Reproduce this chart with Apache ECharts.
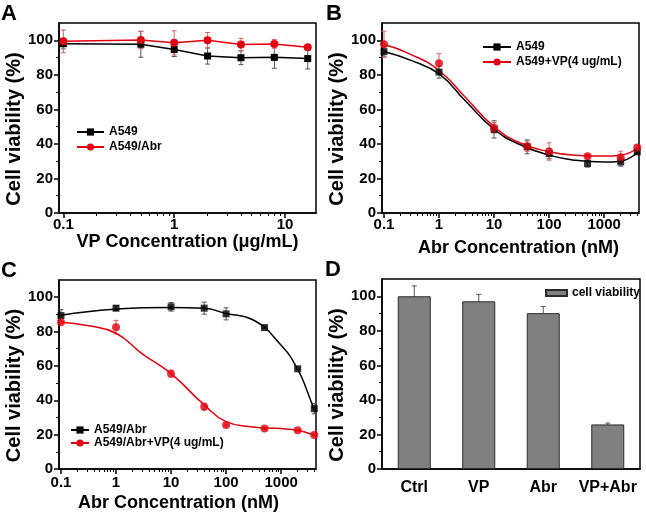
<!DOCTYPE html>
<html><head><meta charset="utf-8">
<script src="https://cdn.jsdelivr.net/npm/echarts@6/dist/echarts.min.js"></script>
<style>html,body{margin:0;padding:0;background:#fff}#c{width:646px;height:516px}</style>
</head><body><div id="c"></div>
<script>
const FONT = '"Liberation Sans", Arial, Helvetica, sans-serif';

// ---- Panel A ----
const concA = [0.1, 0.5, 1, 2, 4, 8, 16];
const a549A = [98, 97.7, 94.6, 90.9, 89.9, 90.1, 89.4];
const a549ErrA = [3, 7.5, 4, 4.7, 4, 6.3, 6];
const abrA = [99.4, 100.2, 98.5, 100, 97.5, 97.9, 95.9];
const abrErrA = [6.6, 5, 7, 4.5, 3.6, 2.5, 1.5];

// ---- Panel B ----
const concB = [0.1, 1, 10, 40, 100, 500, 2000, 4000];
const a549B = [93.4, 81.6, 48.4, 38.3, 34.4, 28.6, 29.6, 35.4];
const a549ErrB = [3, 3.5, 5, 4, 3, 2, 2.5, 1];
const vpB = [97.7, 86.7, 49.3, 38.7, 35.6, 32.9, 32.3, 37.9];
const vpErrB = [7.5, 5.5, 3, 3, 5, 1, 3.5, 1];
const fitXB = [0.1, 0.3, 1, 3, 10, 30, 100, 300, 1000, 2000, 4000];
const a549FitB = [93.5, 88.5, 80.5, 65, 48.5, 39.5, 33.5, 30.5, 29.5, 30, 35];
const vpFitB = [97.5, 92, 82.5, 67, 50, 40.5, 35.5, 33.5, 33, 33.5, 37.5];

// ---- Panel C ----
const concC = [0.1, 1, 10, 40, 100, 500, 2000, 4000];
const abrC = [89.3, 93.6, 94.4, 93.6, 90.3, 82.3, 58.3, 35.1];
const abrErrC = [3.5, 1.5, 2.5, 3.5, 3.5, 0.5, 0.5, 3];
const comboC = [85.4, 82.5, 55.5, 36.3, 25.6, 23.5, 22.5, 19.8];
const comboErrC = [0.5, 4, 2, 2, 0.5, 0.5, 0.5, 0.5];
const fitXC = [0.1, 0.3, 1, 3, 10, 40, 100, 300, 1000, 2000, 3000, 4000];
const abrFitC = [89.5, 91.5, 93, 93.8, 94, 93.5, 90.5, 87, 72, 58, 45, 34];
const comboFitC = [85.4, 83.5, 79, 67, 55.5, 37.3, 27.6, 24.5, 23.5, 22.5, 21, 19.8];

// ---- Panel D ----
const catsD = ['Ctrl', 'VP', 'Abr', 'VP+Abr'];
const valD = [100, 97.1, 90.2, 25.8];
const errD = [6, 4, 3.9, 0.8];

// ---- ticks ----
const yTicks = [0, 20, 40, 60, 80, 100];
const yMinorTicks = [10, 30, 50, 70, 90];
const xTicksA = [0.1, 1, 10];
const xMinorTicksA = [0.2, 0.3, 0.4, 0.5, 0.6, 0.7, 0.8, 0.9, 2, 3, 4, 5, 6, 7, 8, 9];
const xTicksBC = [0.1, 1, 10, 100, 1000];
const xMinorTicksBC = [0.2, 0.3, 0.4, 0.5, 0.6, 0.7, 0.8, 0.9, 2, 3, 4, 5, 6, 7, 8, 9,
  20, 30, 40, 50, 60, 70, 80, 90, 200, 300, 400, 500, 600, 700, 800, 900, 2000, 3000, 4000];

const BLACK = '#000000', RED = '#e3000f';
const ERR_BLACK = '#555555', ERR_RED = '#e06060';

const zip = (xs, ys) => xs.map((x, i) => [x, ys[i]]);
const errData = (xs, ys, es) => xs.map((x, i) => [x, ys[i] - es[i], ys[i] + es[i]]);

function errSeries(xi, yi, data, color) {
  return {
    type: 'custom', xAxisIndex: xi, yAxisIndex: yi, z: 1, silent: true,
    encode: { x: 0, y: [1, 2] }, data: data, clip: false,
    renderItem: function (params, api) {
      const x = api.value(0);
      const top = api.coord([x, api.value(2)]);
      const bot = api.coord([x, api.value(1)]);
      const c = 2.5;
      const st = { stroke: color, lineWidth: 1 };
      return { type: 'group', children: [
        { type: 'line', shape: { x1: top[0], y1: top[1], x2: bot[0], y2: bot[1] }, style: st },
        { type: 'line', shape: { x1: top[0] - c, y1: top[1], x2: top[0] + c, y2: top[1] }, style: st },
        { type: 'line', shape: { x1: bot[0] - c, y1: bot[1], x2: bot[0] + c, y2: bot[1] }, style: st }
      ] };
    }
  };
}

const axisLineStyle = { color: '#000', width: 1.5 };
const labelStyle = { color: '#000', fontSize: 15, fontWeight: 'bold', fontFamily: FONT };
const nameStyleX = { color: '#000', fontSize: 18, fontWeight: 'bold', fontFamily: FONT };

function logX(gi, min, max, ticks, name, gap, pad, margin) {
  return {
    type: 'log', logBase: 10, gridIndex: gi, min: min, max: max, position: 'bottom',
    axisLine: { show: true, onZero: false, lineStyle: axisLineStyle },
    axisTick: { show: true, customValues: ticks, length: 5, lineStyle: axisLineStyle },
    axisLabel: { customValues: ticks, margin: margin, formatter: v => String(v), ...labelStyle },
    splitLine: { show: false }, minorTick: { show: false },
    name: name, nameLocation: 'middle', nameGap: gap,
    nameTextStyle: { ...nameStyleX, padding: pad }
  };
}
function logXMinor(gi, min, max, ticks) {
  return {
    type: 'log', logBase: 10, gridIndex: gi, min: min, max: max, position: 'bottom',
    axisLine: { show: false }, axisLabel: { show: false }, splitLine: { show: false },
    axisTick: { show: true, customValues: ticks, length: 3, lineStyle: { color: '#000', width: 1 } }
  };
}
function yMajor(gi) {
  return {
    type: 'value', gridIndex: gi, min: 0, max: 110, position: 'left',
    axisLine: { show: true, onZero: false, lineStyle: axisLineStyle },
    axisTick: { show: true, customValues: yTicks, length: 5, lineStyle: axisLineStyle },
    axisLabel: { customValues: yTicks, margin: 6, ...labelStyle },
    splitLine: { show: false },
    name: 'Cell viability (%)', nameLocation: 'middle', nameGap: 35,
    nameTextStyle: { color: '#000', fontSize: 20, fontWeight: 'bold', fontFamily: FONT, padding: [0, 22, 0, 0] }
  };
}
function yMinor(gi) {
  return {
    type: 'value', gridIndex: gi, min: 0, max: 110, position: 'left',
    axisLine: { show: false }, axisLabel: { show: false }, splitLine: { show: false },
    axisTick: { show: true, customValues: yMinorTicks, length: 3, lineStyle: { color: '#000', width: 1 } }
  };
}

const gridBase = { show: true, borderColor: '#000', borderWidth: 1.5, backgroundColor: 'transparent', containLabel: false };

const legendBase = {
  orient: 'vertical', padding: 0, selectedMode: false,
  formatter: n => n.slice(2),
  textStyle: { color: '#000', fontSize: 12, fontWeight: 'bold', fontFamily: FONT }
};

const titleStyle = { color: '#000', fontSize: 22, fontWeight: 'bold', fontFamily: FONT };

const option = {
  animation: false,
  backgroundColor: '#fff',
  title: [
    { text: 'A', left: 1, top: 3, padding: 0, textStyle: titleStyle },
    { text: 'B', left: 326, top: 3, padding: 0, textStyle: titleStyle },
    { text: 'C', left: 1, top: 260, padding: 0, textStyle: titleStyle },
    { text: 'D', left: 325, top: 259, padding: 0, textStyle: titleStyle }
  ],
  grid: [
    { ...gridBase, left: 59, top: 23, width: 257, height: 190 },
    { ...gridBase, left: 382, top: 23, width: 257, height: 190 },
    { ...gridBase, left: 59, top: 280, width: 257, height: 189 },
    { ...gridBase, left: 382, top: 279, width: 258, height: 190 }
  ],
  legend: [
    { ...legendBase, left: 76, top: 126, itemWidth: 27, itemHeight: 9, itemGap: 3,
      data: ['A:A549', 'A:A549/Abr'] },
    { ...legendBase, left: 482, top: 41, itemWidth: 28, itemHeight: 9, itemGap: 3,
      data: ['B:A549', 'B:A549+VP(4 ug/mL)'] },
    { ...legendBase, left: 70, top: 424, itemWidth: 18, itemHeight: 9, itemGap: 1,
      data: ['C:A549/Abr', 'C:A549/Abr+VP(4 ug/mL)'] },
    { ...legendBase, left: 545, top: 287, itemWidth: 21, itemHeight: 6, icon: 'rect',
      data: ['D:cell viability'] }
  ],
  xAxis: [
    logX(0, 0.0914, 19, xTicksA, 'VP Concentration (μg/mL)', 19, [0, 0, 0, 0], 4),
    logXMinor(0, 0.0914, 19, xMinorTicksA),
    logX(1, 0.092, 4300, xTicksBC, 'Abr Concentration (nM)', 26, [0, 0, 0, 16], 4),
    logXMinor(1, 0.092, 4300, xMinorTicksBC),
    logX(2, 0.092, 4300, xTicksBC, 'Abr Concentration (nM)', 25, [0, 18, 0, 0], 6),
    logXMinor(2, 0.092, 4300, xMinorTicksBC),
    {
      type: 'category', gridIndex: 3, data: catsD, position: 'bottom',
      axisLine: { show: true, onZero: false, lineStyle: axisLineStyle },
      axisTick: { show: false },
      axisLabel: { margin: 11, interval: 0, ...labelStyle, fontSize: 16 },
      splitLine: { show: false }
    }
  ],
  yAxis: [
    yMajor(0), yMinor(0), yMajor(1), yMinor(1), yMajor(2), yMinor(2), yMajor(3), yMinor(3)
  ],
  series: [
    // A
    errSeries(0, 0, errData(concA, a549A, a549ErrA), ERR_BLACK),
    errSeries(0, 0, errData(concA, abrA, abrErrA), ERR_RED),
    { type: 'line', name: 'A:A549', xAxisIndex: 0, yAxisIndex: 0, z: 3, data: zip(concA, a549A),
      symbol: 'rect', symbolSize: 7, itemStyle: { color: BLACK }, lineStyle: { color: BLACK, width: 1.5 } },
    { type: 'line', name: 'A:A549/Abr', xAxisIndex: 0, yAxisIndex: 0, z: 4, data: zip(concA, abrA),
      symbol: 'circle', symbolSize: 8, itemStyle: { color: RED }, lineStyle: { color: RED, width: 1.5 } },
    // B
    errSeries(2, 2, errData(concB, a549B, a549ErrB), ERR_BLACK),
    errSeries(2, 2, errData(concB, vpB, vpErrB), ERR_RED),
    { type: 'line', name: 'B:A549', xAxisIndex: 2, yAxisIndex: 2, z: 2, data: zip(fitXB, a549FitB),
      smooth: true, showSymbol: false, symbol: 'rect', symbolSize: 7,
      itemStyle: { color: BLACK }, lineStyle: { color: BLACK, width: 1.5 } },
    { type: 'line', name: 'B:A549+VP(4 ug/mL)', xAxisIndex: 2, yAxisIndex: 2, z: 2, data: zip(fitXB, vpFitB),
      smooth: true, showSymbol: false, symbol: 'circle', symbolSize: 8,
      itemStyle: { color: RED }, lineStyle: { color: RED, width: 1.5 } },
    { type: 'scatter', name: 'B:pts1', xAxisIndex: 2, yAxisIndex: 2, z: 3, data: zip(concB, a549B),
      symbol: 'rect', symbolSize: 7, itemStyle: { color: BLACK } },
    { type: 'scatter', name: 'B:pts2', xAxisIndex: 2, yAxisIndex: 2, z: 4, data: zip(concB, vpB),
      symbol: 'circle', symbolSize: 8, itemStyle: { color: RED } },
    // C
    errSeries(4, 4, errData(concC, abrC, abrErrC), ERR_BLACK),
    errSeries(4, 4, errData(concC, comboC, comboErrC), ERR_RED),
    { type: 'line', name: 'C:A549/Abr', xAxisIndex: 4, yAxisIndex: 4, z: 2, data: zip(fitXC, abrFitC),
      smooth: true, showSymbol: false, symbol: 'rect', symbolSize: 7,
      itemStyle: { color: BLACK }, lineStyle: { color: BLACK, width: 1.5 } },
    { type: 'line', name: 'C:A549/Abr+VP(4 ug/mL)', xAxisIndex: 4, yAxisIndex: 4, z: 2, data: zip(fitXC, comboFitC),
      smooth: true, showSymbol: false, symbol: 'circle', symbolSize: 8,
      itemStyle: { color: RED }, lineStyle: { color: RED, width: 1.5 } },
    { type: 'scatter', name: 'C:pts1', xAxisIndex: 4, yAxisIndex: 4, z: 3, data: zip(concC, abrC),
      symbol: 'rect', symbolSize: 7, itemStyle: { color: BLACK } },
    { type: 'scatter', name: 'C:pts2', xAxisIndex: 4, yAxisIndex: 4, z: 4, data: zip(concC, comboC),
      symbol: 'circle', symbolSize: 8, itemStyle: { color: RED } },
    // D
    { type: 'bar', name: 'D:cell viability', xAxisIndex: 6, yAxisIndex: 6, z: 2, data: valD, barWidth: 33,
      itemStyle: { color: '#808080', borderColor: '#2b2b2b', borderWidth: 1 } },
    errSeries(6, 6, errData([0, 1, 2, 3], valD, errD), ERR_BLACK)
  ]
};

const chart = echarts.init(document.getElementById('c'), null, { renderer: 'canvas' });
chart.setOption(option);
</script>
</body></html>
